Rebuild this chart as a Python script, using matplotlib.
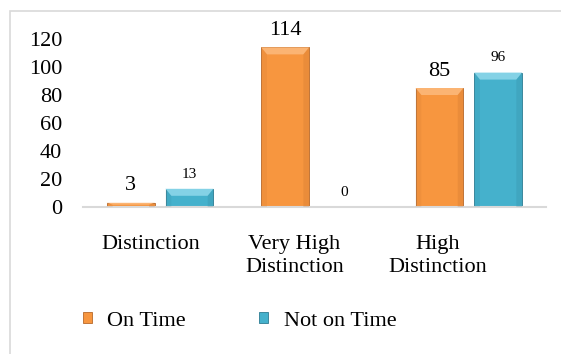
import numpy as np
import matplotlib.pyplot as plt
from matplotlib.patches import Rectangle, Polygon
from matplotlib.transforms import ScaledTranslation

categories = ["Distinction", "Very High\nDistinction", "High\nDistinction"]
on_time = [3, 114, 85]
not_on_time = [13, 0, 96]
series_names = ["On Time", "Not on Time"]

ORANGE = "#F7963F"
ORANGE_DARK = "#B8682A"
ORANGE_LIGHT = "#FBB473"
BLUE = "#45B1CC"
BLUE_DARK = "#2C7C92"
BLUE_LIGHT = "#84D2E6"

plt.rcParams['font.family'] = ['Liberation Serif', 'DejaVu Serif']

fig = plt.figure(figsize=(5.61, 3.54), dpi=100)
ax = fig.add_axes([83 / 561, 1 - 207 / 354, 463 / 561, 168 / 354])

# light gray chart-area border
fig.patches.append(Rectangle((9.5 / 561, -0.2), 1.2, 1 - 10.5 / 354 + 0.2,
                             transform=fig.transFigure, fill=False,
                             edgecolor="#D9D9D9", linewidth=1.2))

x = np.arange(len(categories))
width = 0.31
offset = 0.19


def bevel_bars(xs, vals, face, dark, light):
    bars = ax.bar(xs, vals, width, color=face, edgecolor=dark,
                  linewidth=0.6, zorder=2)
    for b in bars:
        h = b.get_height()
        if h <= 0:
            continue
        x0, w = b.get_x(), b.get_width()
        bev_x = w * 0.12
        bev_y = min(5.0, h * 0.45)
        # lighter top face of the bevel
        ax.add_patch(Polygon([(x0, h), (x0 + w, h), (x0 + w - bev_x, h - bev_y),
                              (x0 + bev_x, h - bev_y)],
                             closed=True, facecolor=light, edgecolor="none",
                             zorder=3))
        # faint darker side strips
        ax.add_patch(Polygon([(x0, h), (x0 + bev_x, h - bev_y), (x0 + bev_x, 0),
                              (x0, 0)], closed=True, facecolor=dark,
                             alpha=0.12, edgecolor="none", zorder=3))
        ax.add_patch(Polygon([(x0 + w, h), (x0 + w - bev_x, h - bev_y),
                              (x0 + w - bev_x, 0), (x0 + w, 0)], closed=True,
                             facecolor=dark, alpha=0.2, edgecolor="none",
                             zorder=3))
    return bars


b1 = bevel_bars(x - offset, on_time, ORANGE, ORANGE_DARK, ORANGE_LIGHT)
b2 = bevel_bars(x + offset, not_on_time, BLUE, BLUE_DARK, BLUE_LIGHT)

for xi, v in zip(x - offset, on_time):
    ax.annotate(str(v), (xi, v), xytext=(0, 9), textcoords="offset points",
                ha="center", va="baseline", fontsize=16)
for xi, v in zip(x + offset, not_on_time):
    ax.annotate(str(v), (xi, v), xytext=(0, 8), textcoords="offset points",
                ha="center", va="baseline", fontsize=11)

ax.set_xlim(-0.5, 2.5)
ax.set_ylim(0, 120)
ax.set_yticks(range(0, 121, 20))
ax.set_xticks(x)
ax.set_xticklabels(categories, fontsize=16, linespacing=1.3)
ax.tick_params(axis="y", length=0, pad=15, labelsize=16)
ax.tick_params(axis="x", length=0, pad=20)

# labels sit slightly left of their groups
for i, lbl in enumerate(ax.get_xticklabels()):
    lbl.set_transform(lbl.get_transform() +
                      ScaledTranslation((-9 - 11 * i) / 100, 0,
                                        fig.dpi_scale_trans))

for side in ["left", "right", "top"]:
    ax.spines[side].set_visible(False)
ax.spines["bottom"].set_color("#D9D9D9")
ax.spines["bottom"].set_linewidth(1.5)
ax.patch.set_alpha(0)

handles = [Rectangle((0, 0), 1, 1, facecolor=ORANGE, edgecolor=ORANGE_DARK,
                     linewidth=0.6),
           Rectangle((0, 0), 1, 1, facecolor=BLUE, edgecolor=BLUE_DARK,
                     linewidth=0.6)]
fig.legend(handles, series_names, loc="center left",
           bbox_to_anchor=(83 / 561, 1 - 321 / 354), ncol=2, frameon=False,
           fontsize=16, handlelength=0.4, handleheight=0.4,
           handletextpad=0.7, columnspacing=3.3, borderpad=0, borderaxespad=0)

fig.savefig("out.png", dpi=100)
